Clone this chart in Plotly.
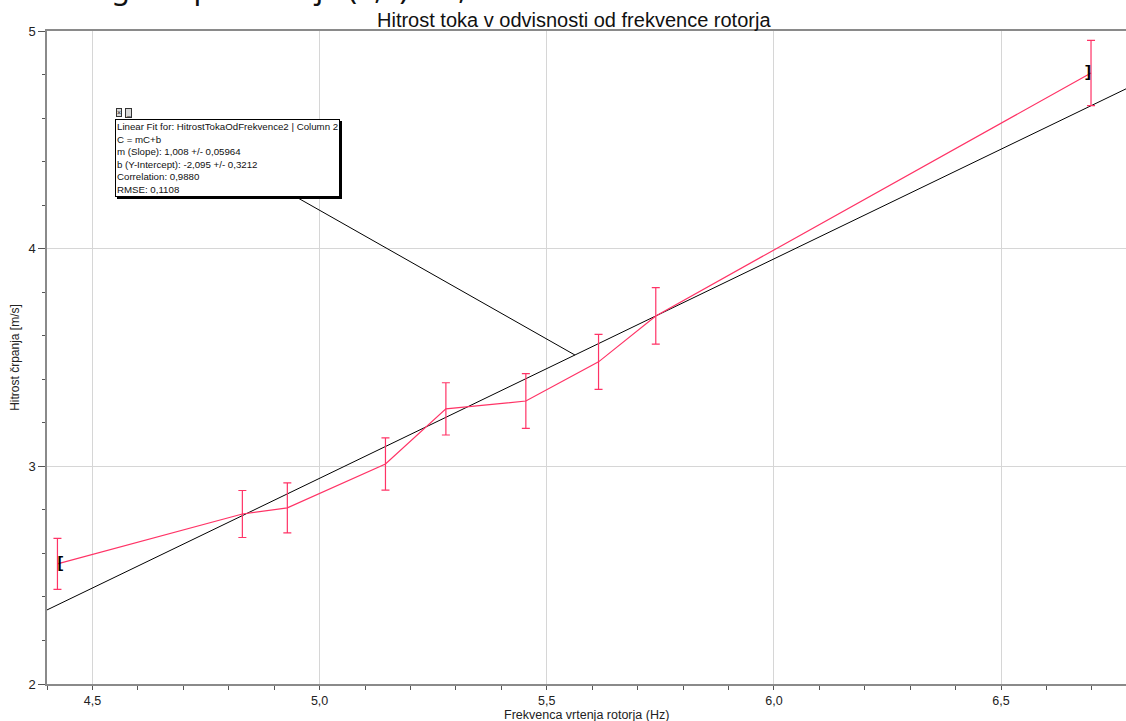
import plotly.graph_objects as go

# ---- data ----
freq = [4.423, 4.830, 4.929, 5.145, 5.278, 5.454, 5.614, 5.740, 6.698]
speed = [2.552, 2.781, 2.809, 3.011, 3.264, 3.300, 3.480, 3.691, 4.807]
speed_err = [0.117, 0.108, 0.115, 0.120, 0.120, 0.126, 0.126, 0.130, 0.150]

fit_slope = 1.008
fit_intercept = -2.095
fit_x = [4.30, 6.90]
fit_y = [fit_slope * v + fit_intercept for v in fit_x]

x_range = [4.4, 6.775]
y_range = [2, 5]
x_ticks = [4.5, 5.0, 5.5, 6.0, 6.5]
y_ticks = [2, 3, 4, 5]

fit_text_lines = [
    "Linear Fit for: HitrostTokaOdFrekvence2 | Column 2",
    "C = mC+b",
    "m (Slope): 1,008 +/- 0,05964",
    "b (Y-Intercept): -2,095 +/- 0,3212",
    "Correlation: 0,9880",
    "RMSE: 0,1108",
]
fit_label_x = 5.562

title_text = "Hitrost toka v odvisnosti od frekvence rotorja"
x_title = "Frekvenca vrtenja rotorja (Hz)"
y_title = "Hitrost črpanja [m/s]"
clipped_text = "Enačba grafa premice je (1,0) ± 0,06"

RED = "#ff3366"
FONT = "Arial, Liberation Sans, sans-serif"

# plot-area pixel geometry (for placing paper-referenced texts)
L, T, B, W = 47, 31, 684, 1079


def px(xp):
    return (xp - L) / W


def py(yp):
    return (B - yp) / (B - T)


fig = go.Figure()

fig.add_trace(go.Scatter(
    x=fit_x, y=fit_y, mode="lines",
    line=dict(color="black", width=1), hoverinfo="skip", showlegend=False,
))

fig.add_trace(go.Scatter(
    x=freq, y=speed, mode="lines",
    line=dict(color=RED, width=1.2),
    error_y=dict(type="data", array=speed_err, visible=True,
                 color=RED, thickness=1.2, width=4),
    showlegend=False,
))

# selection brackets at first and last point
fig.add_trace(go.Scatter(
    x=[freq[0], freq[-1]], y=[speed[0], speed[-1]], mode="text",
    text=["<b>[</b>", "<b>]</b>"], textposition=["middle right", "middle left"],
    textfont=dict(family=FONT, size=17, color="black"),
    showlegend=False, hoverinfo="skip",
))

axis_common = dict(
    showline=True, linecolor="#8a8a8a", linewidth=1.5,
    gridcolor="#d6d6d6", gridwidth=1, zeroline=False,
    tickcolor="#555",
)

fig.update_xaxes(
    range=x_range, tickvals=x_ticks, tickformat=".1f",
    ticks="outside", ticklen=4, mirror=True,
    tickfont=dict(family=FONT, size=12.5, color="#222"),
    minor=dict(dtick=0.1, tick0=4.4, ticks="outside", ticklen=4,
               tickcolor="#555", showgrid=False),
    **axis_common,
)
fig.update_yaxes(
    range=y_range, tickvals=y_ticks, tickformat="d",
    ticks="outside", ticklen=7,
    tickfont=dict(family=FONT, size=13, color="#222"),
    minor=dict(dtick=0.2, tick0=2, ticks="outside", ticklen=3,
               tickcolor="#555", showgrid=False),
    title=dict(text=y_title, font=dict(family=FONT, size=12, color="#222"),
               standoff=6),
    **axis_common,
)

tip_y = fit_slope * fit_label_x + fit_intercept
box_text = "<br>".join(fit_text_lines)
box_font = 9.7

annotations = [
    # shadow
    dict(x=fit_label_x, y=tip_y, xref="x", yref="y", text=box_text,
         showarrow=True, arrowhead=0, arrowwidth=0.1, arrowcolor="rgba(0,0,0,0)",
         ax=-345.5, ay=-195, align="left",
         font=dict(family=FONT, size=box_font, color="rgba(0,0,0,0)"),
         bgcolor="black", bordercolor="black", borderwidth=1, borderpad=1),
    dict(x=fit_label_x, y=tip_y, xref="x", yref="y", text=box_text,
         showarrow=True, arrowhead=0, arrowwidth=1, arrowcolor="black",
         ax=-347.5, ay=-197, align="left",
         font=dict(family=FONT, size=box_font, color="#111"),
         bgcolor="white", bordercolor="black", borderwidth=1, borderpad=1),
    # small window icons above the box
    dict(x=px(116), y=py(113), xref="paper", yref="paper", xanchor="left",
         yanchor="middle", text="×", showarrow=False,
         font=dict(family=FONT, size=7, color="#222"),
         bgcolor="#d8d8d8", bordercolor="#333", borderwidth=1, borderpad=0),
    dict(x=px(125), y=py(113), xref="paper", yref="paper", xanchor="left",
         yanchor="middle", text="_", showarrow=False,
         font=dict(family=FONT, size=7, color="#222"),
         bgcolor="#d8d8d8", bordercolor="#333", borderwidth=1, borderpad=0),
    dict(x=px(574), y=py(20), xref="paper", yref="paper",
         xanchor="center", yanchor="middle",
         text=title_text, showarrow=False,
         font=dict(family=FONT, size=20, color="#111")),
    dict(x=px(586), y=py(715), xref="paper", yref="paper",
         xanchor="center", yanchor="middle",
         text=x_title, showarrow=False,
         font=dict(family=FONT, size=12.5, color="#222")),
    dict(x=px(0), y=py(10), xref="paper", yref="paper",
         xanchor="left", yanchor="bottom", text=clipped_text, showarrow=False,
         font=dict(family="Noto Sans, sans-serif", size=30, color="#111")),
]

fig.update_layout(
    width=1126, height=721,
    margin=dict(l=L, r=0, t=T, b=721 - B),
    paper_bgcolor="white", plot_bgcolor="white",
    separators=", ",
    annotations=annotations,
)

fig.write_html("out.html")
